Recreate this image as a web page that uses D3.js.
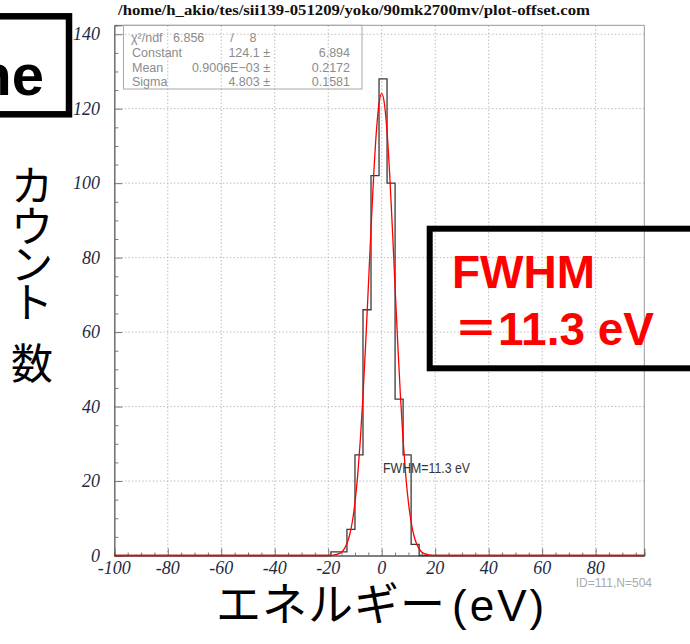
<!DOCTYPE html>
<html>
<head>
<meta charset="utf-8">
<script src="https://cdn.jsdelivr.net/npm/d3@7"></script>
<style>
   body { margin: 0; background: #fff; }
   svg { display: block; }
</style>
</head>
<body>
<svg id="chart" width="690" height="644"></svg>
<script>
// histogram bins (left edges, last one is the right edge of the final bin)
var binEdges = [-19, -16, -13, -10, -7, -4, -1, 2, 5, 8, 11, 14];
var binCounts = [1, 1, 7, 27, 66, 102, 128, 100, 42, 27, 3];

// red fit curve
var fitX = [-100, -20, -18, -16, -15, -14, -13, -12, -11, -10, -9, -8, -7, -6, -5, -4, -3, -2, -1, 0,
   1, 2, 3, 4, 5, 6, 7, 8, 9, 10, 11, 12, 13, 14, 15, 16, 18, 20, 98];
var fitY = [0, 0, 0.1, 0.5, 0.9, 1.8, 3.2, 5.5, 9.0, 14.2, 21.4, 31.0, 42.9, 56.9, 72.2, 87.7, 102.1, 113.8, 121.4, 124.1,
   121.4, 113.8, 102.1, 87.7, 72.2, 56.9, 42.9, 31.0, 21.4, 14.2, 9.0, 5.5, 3.2, 1.8, 0.9, 0.5, 0.1, 0, 0];

var xTicks = [-100, -80, -60, -40, -20, 0, 20, 40, 60, 80];
var yTicks = [0, 20, 40, 60, 80, 100, 120, 140];

var titleText = '/home/h_akio/tes/sii139-051209/yoko/90mk2700mv/plot-offset.com';
var chiRow = ['\u03c7\u00b2/ndf', '6.856', '/', '8'];
var statNames = ['Constant', 'Mean', 'Sigma'];
var statValues = ['124.1 \u00b1', '0.9006E\u221203 \u00b1', '4.803 \u00b1'];
var statErrors = ['6.894', '0.2172', '0.1581'];

var yTitleChars = ['\u30ab', '\u30a6', '\u30f3', '\u30c8', '\u6570'];
var xTitleKana = '\u30a8\u30cd\u30eb\u30ae\u30fc';
var xTitleUnit = '(eV)';

var svg = d3.select('#chart');

var x = d3.scaleLinear().domain([-100, 98.2]).range([114.3, 644.3]);
var y = d3.scaleLinear().domain([0, 142.4]).range([555.5, 25.3]);

var serif = '"Liberation Serif", "DejaVu Serif", serif';
var sans = '"Liberation Sans", Arial, sans-serif';
var cjk = '"Noto Sans CJK JP", "Noto Sans CJK SC", sans-serif';

// title
svg.append('text')
   .attr('x', 354).attr('y', 15)
   .attr('text-anchor', 'middle')
   .attr('textLength', 472).attr('lengthAdjust', 'spacingAndGlyphs')
   .attr('font-family', serif).attr('font-weight', 'bold').attr('font-size', 14)
   .attr('fill', '#111')
   .text(titleText);

var plot = svg.append('g');

// dotted grid
plot.append('g').selectAll('line')
   .data(xTicks.slice(1))
   .enter().append('line')
   .attr('x1', function (d) { return x(d); })
   .attr('x2', function (d) { return x(d); })
   .attr('y1', y.range()[0]).attr('y2', y.range()[1])
   .attr('stroke', '#bdbdbd').attr('stroke-dasharray', '1.5,2');

plot.append('g').selectAll('line')
   .data(yTicks.slice(1))
   .enter().append('line')
   .attr('y1', function (d) { return y(d); })
   .attr('y2', function (d) { return y(d); })
   .attr('x1', x.range()[0]).attr('x2', x.range()[1])
   .attr('stroke', '#bdbdbd').attr('stroke-dasharray', '1.5,2');

// frame (top and right)
plot.append('path')
   .attr('d', 'M' + x.range()[0] + ',' + y.range()[1] + 'H' + x.range()[1] + 'V' + y.range()[0])
   .attr('fill', 'none').attr('stroke', '#999');

// left axis, ticks pointing inside
var yMinor = d3.range(0, 141, 5).filter(function (d) { return d % 20 !== 0; });
var yAxisG = plot.append('g').attr('transform', 'translate(' + x.range()[0] + ',0)');
yAxisG.append('g')
   .call(d3.axisRight(y).tickValues(yTicks).tickSize(8).tickFormat(''));
yAxisG.append('g')
   .call(d3.axisRight(y).tickValues(yMinor).tickSize(4).tickFormat(''));
yAxisG.selectAll('.domain').attr('stroke', '#666');
yAxisG.selectAll('.tick line').attr('stroke', '#777');
yAxisG.selectAll('.tick text').remove();

// bottom axis, ticks pointing up
var xMinor = d3.range(-95, 98, 5).filter(function (d) { return d % 20 !== 0; });
var xAxisG = plot.append('g').attr('transform', 'translate(0,' + y.range()[0] + ')');
xAxisG.append('g')
   .call(d3.axisTop(x).tickValues(xTicks).tickSize(7).tickFormat(''));
xAxisG.append('g')
   .call(d3.axisTop(x).tickValues(xMinor).tickSize(3).tickFormat(''));
xAxisG.selectAll('.domain').attr('stroke', '#555');
xAxisG.selectAll('.tick line').attr('stroke', '#777');
xAxisG.selectAll('.tick text').remove();

// tick labels
svg.append('g').selectAll('text')
   .data(yTicks)
   .enter().append('text')
   .attr('x', 100)
   .attr('y', function (d) { return y(d) + 6; })
   .attr('text-anchor', 'end')
   .attr('font-family', serif).attr('font-style', 'italic').attr('font-size', 18)
   .attr('fill', '#1f2a44')
   .text(function (d) { return String(d); });

svg.append('g').selectAll('text')
   .data(xTicks)
   .enter().append('text')
   .attr('x', function (d) { return x(d); })
   .attr('y', 574)
   .attr('text-anchor', 'middle')
   .attr('font-family', serif).attr('font-style', 'italic').attr('font-size', 18)
   .attr('fill', '#1f2a44')
   .text(function (d) { return String(d); });

// histogram as a step line
var histPts = [[x.domain()[0], 0]];
binCounts.forEach(function (c, i) { histPts.push([binEdges[i], c]); });
histPts.push([binEdges[binEdges.length - 1], 0]);
histPts.push([x.domain()[1], 0]);

plot.append('path')
   .datum(histPts)
   .attr('fill', 'none')
   .attr('stroke', '#3a3a3a')
   .attr('stroke-width', 1.3)
   .attr('d', d3.line()
      .x(function (d) { return x(d[0]); })
      .y(function (d) { return y(d[1]); })
      .curve(d3.curveStepAfter));

// fit curve
plot.append('path')
   .datum(fitX.map(function (v, i) { return [v, fitY[i]]; }))
   .attr('fill', 'none')
   .attr('stroke', '#f00')
   .attr('stroke-width', 1.3)
   .attr('d', d3.line()
      .x(function (d) { return x(d[0]); })
      .y(function (d) { return y(d[1]); })
      .curve(d3.curveMonotoneX));

// stats box
var stats = svg.append('g')
   .attr('font-family', sans).attr('font-size', 12.5)
   .attr('fill', '#8c8c8c');
stats.append('rect')
   .attr('x', 123.5).attr('y', 25.3).attr('width', 238.5).attr('height', 63.7)
   .attr('fill', 'none').attr('stroke', '#a8a8a8');
stats.append('text').attr('x', 131).attr('y', 41.5).text(chiRow[0]);
stats.append('text').attr('x', 173).attr('y', 41.5).text(chiRow[1]);
stats.append('text').attr('x', 232).attr('y', 41.5).attr('text-anchor', 'middle').text(chiRow[2]);
stats.append('text').attr('x', 253).attr('y', 41.5).attr('text-anchor', 'middle').text(chiRow[3]);

var rowY = [56.5, 71.5, 86];
statNames.forEach(function (n, i) {
   stats.append('text').attr('x', 132).attr('y', rowY[i]).text(n);
   stats.append('text').attr('x', 270).attr('y', rowY[i]).attr('text-anchor', 'end').text(statValues[i]);
   stats.append('text').attr('x', 350).attr('y', rowY[i]).attr('text-anchor', 'end').text(statErrors[i]);
});

// in-plot annotation
svg.append('text')
   .attr('x', 383).attr('y', 473)
   .attr('textLength', 87).attr('lengthAdjust', 'spacingAndGlyphs')
   .attr('font-family', sans).attr('font-size', 15)
   .attr('fill', '#333')
   .text('FWHM=11.3 eV');

svg.append('text')
   .attr('x', 652).attr('y', 587)
   .attr('text-anchor', 'end')
   .attr('font-family', sans).attr('font-size', 12)
   .attr('fill', '#aaa')
   .text('ID=111,N=504');

// slide overlays
svg.append('rect')
   .attr('x', -10).attr('y', 16.3).attr('width', 79).attr('height', 98)
   .attr('fill', '#fff').attr('stroke', '#000').attr('stroke-width', 6.5);
svg.append('text')
   .attr('x', 44).attr('y', 95)
   .attr('text-anchor', 'end')
   .attr('font-family', sans).attr('font-weight', 'bold').attr('font-size', 58)
   .attr('fill', '#000')
   .text('he');

svg.append('rect')
   .attr('x', 429.7).attr('y', 228.7).attr('width', 300).attr('height', 139.6)
   .attr('fill', 'none').attr('stroke', '#000').attr('stroke-width', 6);
svg.append('text')
   .attr('x', 452).attr('y', 288)
   .attr('font-family', sans).attr('font-weight', 'bold').attr('font-size', 46)
   .attr('fill', '#f00')
   .text('FWHM');
var eqLine = svg.append('text')
   .attr('x', 454).attr('y', 345)
   .attr('font-weight', 'bold')
   .attr('fill', '#f00');
eqLine.append('tspan').attr('font-family', cjk).attr('font-size', 44).text('\uff1d');
eqLine.append('tspan').attr('font-family', sans).attr('font-size', 46).text('11.3 eV');

// axis titles
var yCharCenters = [182, 223, 261, 299, 360];
svg.append('g').selectAll('text')
   .data(yTitleChars)
   .enter().append('text')
   .attr('x', 32)
   .attr('y', function (d, i) { return yCharCenters[i]; })
   .attr('text-anchor', 'middle')
   .attr('dominant-baseline', 'central')
   .attr('font-family', cjk).attr('font-size', 42)
   .attr('fill', '#000')
   .text(function (d) { return d; });

var xTitle = svg.append('text')
   .attr('x', 216).attr('y', 621)
   .attr('fill', '#000');
xTitle.append('tspan').attr('font-family', cjk).attr('font-size', 45).attr('letter-spacing', 1).text(xTitleKana);
xTitle.append('tspan').attr('font-family', sans).attr('font-size', 44).attr('dx', 6).attr('letter-spacing', 3).text(xTitleUnit);
</script>
</body>
</html>
